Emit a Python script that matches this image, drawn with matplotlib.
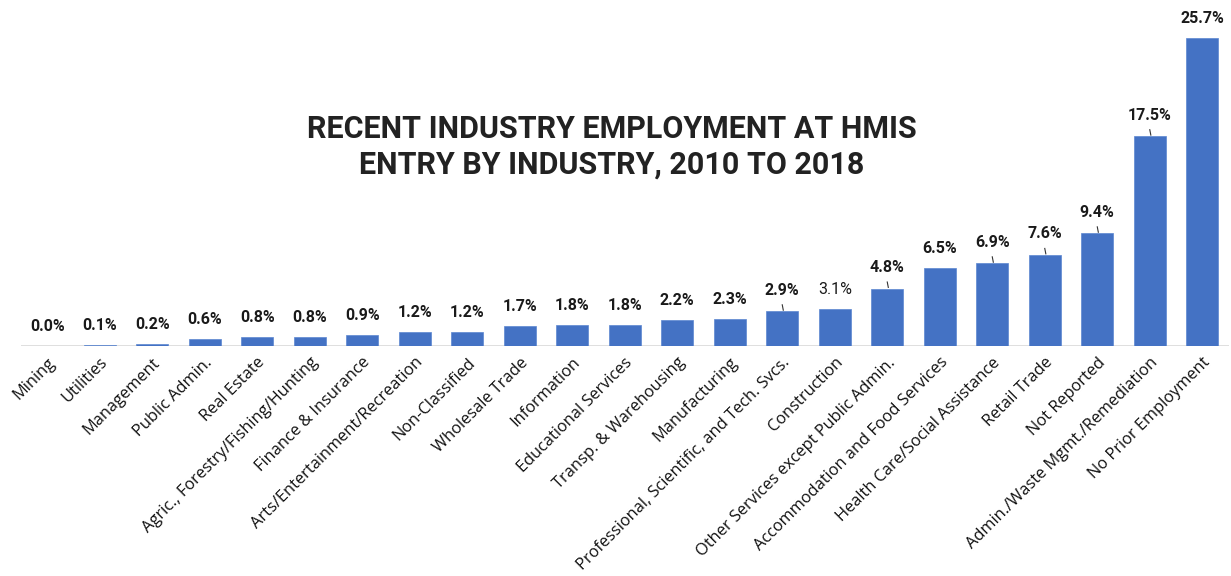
import matplotlib.pyplot as plt
from matplotlib import font_manager

industries = [
    'Mining', 'Utilities', 'Management', 'Public Admin.', 'Real Estate',
    'Agric., Forestry/Fishing/Hunting', 'Finance & Insurance',
    'Arts/Entertainment/Recreation', 'Non-Classified', 'Wholesale Trade',
    'Information', 'Educational Services', 'Transp. & Warehousing',
    'Manufacturing', 'Professional, Scientific, and Tech. Svcs.',
    'Construction', 'Other Services except Public Admin.',
    'Accommodation and Food Services', 'Health Care/Social Assistance',
    'Retail Trade', 'Not Reported', 'Admin./Waste Mgmt./Remediation',
    'No Prior Employment',
]
shares = [0.0, 0.1, 0.2, 0.6, 0.8, 0.8, 0.9, 1.2, 1.2, 1.7, 1.8, 1.8, 2.2,
          2.3, 2.9, 3.1, 4.8, 6.5, 6.9, 7.6, 9.4, 17.5, 25.7]
# labels that Excel nudged up with a leader line
leader = ['Professional, Scientific, and Tech. Svcs.',
          'Other Services except Public Admin.',
          'Health Care/Social Assistance', 'Retail Trade', 'Not Reported',
          'Admin./Waste Mgmt./Remediation']

names = [f.name for f in font_manager.fontManager.ttflist]
narrow = 'Liberation Sans Narrow' if 'Liberation Sans Narrow' in names else 'Roboto'

blue = '#4472C4'

fig = plt.figure(figsize=(12.31, 5.76), dpi=100)
ax = fig.add_axes([0.017, 0.399, 0.981, 0.583])

x = list(range(len(industries)))
ax.bar(x, shares, width=0.61, color=blue, edgecolor='#5b86d0', linewidth=0.5, zorder=2)
ax.axhline(0, color='#d9d9d9', linewidth=1.2, zorder=1)
ax.set_xlim(-0.5, len(industries) - 0.5)
ax.set_ylim(0, 28)

for i, (name, v) in enumerate(zip(industries, shares)):
    weight = 'normal' if name == 'Construction' else 'bold'
    gap = 1.0
    if name in leader:
        gap = 1.15
        ax.plot([i + 0.02, i], [v + 0.1, v + 0.55], color='#333333', linewidth=0.8)
    ax.text(i, v + gap, f'{v:.1f}%', ha='center', va='bottom', fontsize=11.5,
            family=narrow, weight=weight, color='#1a1a1a')

ax.set_xticks(x)
ax.set_xticklabels(industries, rotation=45, ha='right', rotation_mode='anchor',
                   fontsize=11.8, family='Open Sans', color='#111111')
ax.tick_params(axis='x', length=0, pad=6)
ax.set_yticks([])
for s in ax.spines.values():
    s.set_visible(False)

fig.text(0.497, 0.745, 'RECENT INDUSTRY EMPLOYMENT AT HMIS\nENTRY BY INDUSTRY, 2010 TO 2018',
         ha='center', va='center', fontsize=22, family=narrow, weight='bold',
         color='#222222', linespacing=1.2)

fig.savefig('out.png', dpi=100)
